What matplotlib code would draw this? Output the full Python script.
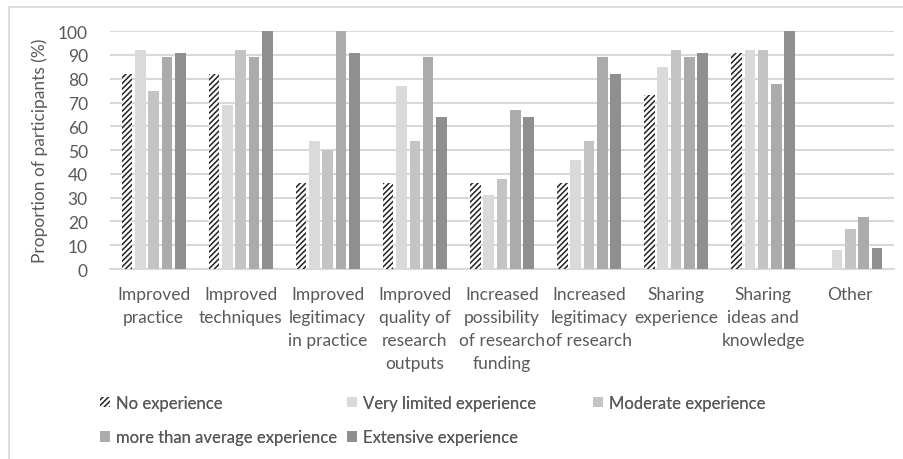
import matplotlib.pyplot as plt
import numpy as np
from matplotlib.patches import Rectangle

plt.rcParams['font.family'] = ['Lato', 'DejaVu Sans']
plt.rcParams['hatch.linewidth'] = 1.1

categories = ["Improved\npractice", "Improved\ntechniques", "Improved\nlegitimacy\nin practice",
              "Improved\nquality of\nresearch\noutputs", "Increased\npossibility\nof research\nfunding",
              "Increased\nlegitimacy\nof research", "Sharing\nexperience", "Sharing\nideas and\nknowledge",
              "Other"]

series_names = ["No experience", "Very limited experience", "Moderate experience",
                "more than average experience", "Extensive experience"]

no_exp       = [82, 82, 36, 36, 36, 36, 73, 91, 0]
very_limited = [92, 69, 54, 77, 31, 46, 85, 92, 8]
moderate     = [75, 92, 50, 54, 38, 54, 92, 92, 17]
above_avg    = [89, 89, 100, 89, 67, 89, 89, 78, 22]
extensive    = [91, 100, 91, 64, 64, 82, 91, 100, 9]

colors = ["white", "#dadada", "#c4c4c4", "#ababab", "#8f8f92"]
txt = "#595959"

fig = plt.figure(figsize=(9.04, 4.6), dpi=100)
ax = fig.add_axes([0.1217, 0.413, 0.867, 0.517])

x = np.arange(len(categories))
step = 0.153
width = 0.122
bars = []
for i, (vals, c) in enumerate(zip([no_exp, very_limited, moderate, above_avg, extensive], colors)):
    pos = x + (i - 2) * step
    if i == 0:
        b = ax.bar(pos, vals, width, color="white", edgecolor="#222222", hatch="//////",
                   linewidth=0, label=series_names[i], zorder=3)
    else:
        b = ax.bar(pos, vals, width, color=c, linewidth=0, label=series_names[i], zorder=3)
    bars.append(b)

ax.set_xlim(-0.5, len(categories) - 0.5)
ax.set_ylim(0, 100)
ax.set_yticks(range(0, 101, 10))
ax.yaxis.grid(True, color="#d9d9d9", linewidth=1.5, zorder=0)
ax.set_axisbelow(True)
for s in ["top", "right", "left"]:
    ax.spines[s].set_visible(False)
ax.spines["bottom"].set_color("#d9d9d9")
ax.spines["bottom"].set_linewidth(1.5)
ax.tick_params(length=0, colors=txt, labelsize=12.5)
ax.tick_params(axis="y", pad=16)
ax.tick_params(axis="x", pad=12)
ax.set_xticks(x)
ax.set_xticklabels(categories, linespacing=1.55)
ax.set_ylabel("Proportion of participants (%)", color=txt, fontsize=12.5, labelpad=7)

# legend laid out in three columns
cols = [[0, 3], [1, 4], [2]]
xs = [0.1106, 0.384, 0.656]
for xc, idx in zip(xs, cols):
    leg = fig.legend([bars[k] for k in idx], [series_names[k] for k in idx],
                     loc="upper left", bbox_to_anchor=(xc, 0.139), frameon=False,
                     fontsize=12, handlelength=0.6, handleheight=0.6, handletextpad=0.35,
                     labelspacing=1.1, labelcolor=txt, borderaxespad=0, borderpad=0)
    fig.add_artist(leg)

fig.add_artist(Rectangle((9 / 904, -0.01), 1.0, 1 - 8 / 460 + 0.01, transform=fig.transFigure,
                         fill=False, edgecolor="#d9d9d9", linewidth=1.3))

fig.savefig("out.png", dpi=100)
